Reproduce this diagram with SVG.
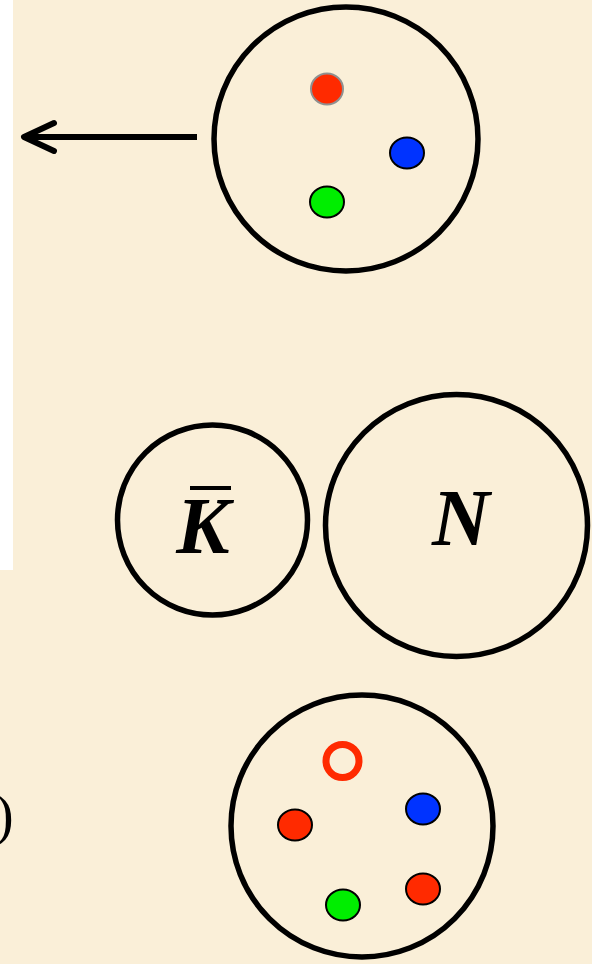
<svg xmlns="http://www.w3.org/2000/svg" width="592" height="964" viewBox="0 0 592 964">
  <defs>
    <style>
      .ring { fill: none; stroke: #000; stroke-width: 5.5; }
      .q { stroke: #000; stroke-width: 2; }
      .red { fill: #FF2A00; }
      .blue { fill: #0033FF; }
      .green { fill: #00EE00; }
      .lbl { font-family: "Liberation Serif", "Times New Roman", serif; font-weight: bold; font-style: italic; font-size: 80px; fill: #000; }
    </style>
  </defs>
  <rect x="0" y="0" width="592" height="964" fill="#FAEFD8"/>
  <rect x="0" y="0" width="13" height="570" fill="#FFFFFF"/>

  <g id="baryon-top">
    <circle class="ring" cx="346" cy="139" r="132"/>
    <ellipse class="red" cx="327" cy="89" rx="16" ry="15.5" stroke="#909090" stroke-width="2"/>
    <ellipse class="q blue" cx="407" cy="153" rx="17" ry="15.5"/>
    <ellipse class="q green" cx="327" cy="202" rx="17" ry="15.5"/>
  </g>

  <g id="kbar">
    <circle class="ring" cx="212.5" cy="520" r="95"/>
    <text class="lbl" x="203" y="553" text-anchor="middle">K</text>
    <line x1="190" y1="488" x2="231" y2="488" stroke="#000" stroke-width="4"/>
  </g>

  <g id="nucleon">
    <circle class="ring" cx="456.5" cy="525.5" r="131"/>
    <text class="lbl" x="461" y="545" text-anchor="middle">N</text>
  </g>

  <g id="pentaquark">
    <circle class="ring" cx="362" cy="826" r="131"/>
    <circle cx="342.5" cy="761" r="16.5" fill="none" stroke="#FF2A00" stroke-width="7"/>
    <ellipse class="q red" cx="295" cy="825" rx="17" ry="15.5"/>
    <ellipse class="q blue" cx="423" cy="809" rx="17" ry="15.5"/>
    <ellipse class="q red" cx="423" cy="889" rx="17" ry="15.5"/>
    <ellipse class="q green" cx="343" cy="905" rx="17" ry="15.5"/>
  </g>

  <text x="-5" y="834" font-family="Liberation Serif, Times New Roman, serif" font-size="56" fill="#000">)</text>

  <g id="connectors">
    <line x1="197" y1="137" x2="26" y2="137" stroke="#000" stroke-width="6"/>
    <polyline points="54,123 24,137 54,151" fill="none" stroke="#000" stroke-width="6" stroke-linecap="round" stroke-linejoin="round"/>
  </g>
</svg>
